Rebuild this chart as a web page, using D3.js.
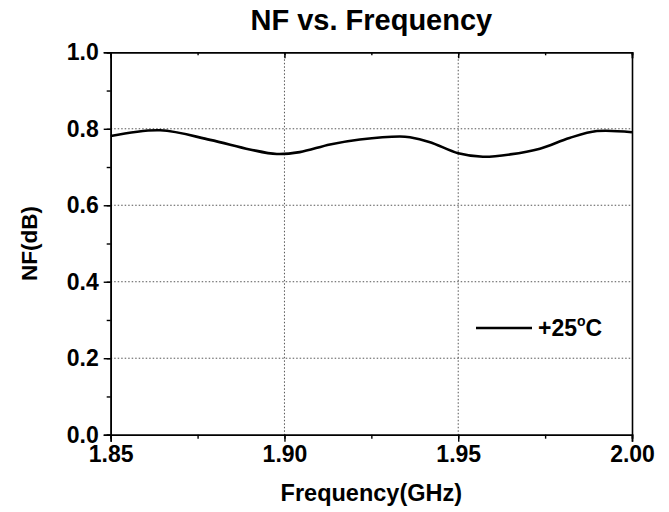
<!DOCTYPE html>
<html>
<head>
<meta charset="utf-8">
<script src="https://cdn.jsdelivr.net/npm/d3@7"></script>
<style>
    body { margin: 0; background: #fff; }
    text { font-family: "Liberation Sans", Arial, sans-serif; font-weight: bold; fill: #000; }
    .grid line { stroke: #555; stroke-width: 1; stroke-dasharray: 1.5,2; }
</style>
</head>
<body>
<svg id="chart" width="669" height="512"></svg>
<script>
// frequency (GHz) and noise figure (dB)
var freq = [1.850, 1.8642, 1.8786, 1.890, 1.8978, 1.9044, 1.9131, 1.9217, 1.9332, 1.9361,
            1.9419, 1.950, 1.9571, 1.9649, 1.9735, 1.982, 1.9899, 2.000];
var nf   = [0.781, 0.796, 0.771, 0.746, 0.734, 0.739, 0.759, 0.772, 0.780, 0.778,
            0.765, 0.736, 0.727, 0.733, 0.748, 0.776, 0.794, 0.791];

var xTicks = [1.85, 1.90, 1.95, 2.00];
var yTicks = [0.0, 0.2, 0.4, 0.6, 0.8, 1.0];
var seriesName = "+25";

var svg = d3.select("#chart");

// plot frame
var box = { left: 110.7, right: 632, top: 52.3, bottom: 434.7 };

var x = d3.scaleLinear().domain([1.85, 2.00]).range([box.left, box.right]);
var y = d3.scaleLinear().domain([0, 1]).range([box.bottom, box.top]);

// dotted grid, inner lines only
var grid = svg.append("g").attr("class", "grid");
grid.selectAll(".gx")
    .data(xTicks.slice(1, -1))
    .enter()
    .append("line")
    .attr("x1", function(d) { return x(d); })
    .attr("x2", function(d) { return x(d); })
    .attr("y1", box.top)
    .attr("y2", box.bottom);
grid.selectAll(".gy")
    .data(yTicks.slice(1, -1))
    .enter()
    .append("line")
    .attr("x1", box.left)
    .attr("x2", box.right)
    .attr("y1", function(d) { return y(d); })
    .attr("y2", function(d) { return y(d); });

// curve
var line = d3.line()
    .x(function(d, i) { return x(freq[i]); })
    .y(function(d) { return y(d); })
    .curve(d3.curveCatmullRom.alpha(0.5));

svg.append("path")
    .datum(nf)
    .attr("d", line)
    .attr("fill", "none")
    .attr("stroke", "#000")
    .attr("stroke-width", 2.6);

// axes
function styleAxis(g)
{
    g.selectAll("path").attr("stroke-width", 1.6).attr("stroke", "#000");
    g.selectAll("line").attr("stroke-width", 1.4).attr("stroke", "#000");
}

var xMinor = d3.range(0, 7).map(function(i) { return 1.85 + i * 0.025; });
var yMinor = d3.range(0, 11).map(function(i) { return i * 0.1; });

svg.append("g")
    .attr("transform", "translate(0," + box.bottom + ")")
    .call(d3.axisBottom(x).tickValues(xMinor).tickSize(4).tickFormat(""))
    .call(styleAxis);
svg.append("g")
    .attr("transform", "translate(0," + box.bottom + ")")
    .call(d3.axisBottom(x).tickValues(xTicks).tickSize(7).tickFormat(d3.format(".2f")).tickPadding(4))
    .call(styleAxis)
    .selectAll("text")
    .style("font-size", "23px");

svg.append("g")
    .attr("transform", "translate(" + box.left + ",0)")
    .call(d3.axisLeft(y).tickValues(yMinor).tickSize(4).tickFormat(""))
    .call(styleAxis);
svg.append("g")
    .attr("transform", "translate(" + box.left + ",0)")
    .call(d3.axisLeft(y).tickValues(yTicks).tickSize(7).tickFormat(d3.format(".1f")).tickPadding(5))
    .call(styleAxis)
    .selectAll("text")
    .style("font-size", "23px");

// top axis with inward ticks, right axis plain
svg.append("g")
    .attr("transform", "translate(0," + box.top + ")")
    .call(d3.axisBottom(x).tickValues(xMinor).tickSize(3).tickFormat(""))
    .call(styleAxis);
svg.append("g")
    .attr("transform", "translate(0," + box.top + ")")
    .call(d3.axisBottom(x).tickValues(xTicks).tickSize(6).tickFormat(""))
    .call(styleAxis);
svg.append("g")
    .attr("transform", "translate(" + box.right + ",0)")
    .call(d3.axisRight(y).tickValues([]).tickSizeOuter(0))
    .call(styleAxis);

// titles
svg.append("text")
    .attr("x", (box.left + box.right) / 2)
    .attr("y", 30)
    .attr("text-anchor", "middle")
    .style("font-size", "29px")
    .text("NF vs. Frequency");

svg.append("text")
    .attr("x", (box.left + box.right) / 2)
    .attr("y", 501)
    .attr("text-anchor", "middle")
    .style("font-size", "23.5px")
    .text("Frequency(GHz)");

svg.append("text")
    .attr("transform", "translate(37," + (box.top + box.bottom) / 2 + ") rotate(-90)")
    .attr("text-anchor", "middle")
    .style("font-size", "22.5px")
    .text("NF(dB)");

// legend
var legend = svg.append("g").attr("transform", "translate(476,328)");
legend.append("line")
    .attr("x1", 0)
    .attr("x2", 56)
    .attr("stroke", "#000")
    .attr("stroke-width", 2.6);
var lt = legend.append("text")
    .attr("x", 62)
    .attr("y", 8)
    .style("font-size", "23px");
lt.append("tspan").text(seriesName);
lt.append("tspan").attr("dy", -10).style("font-size", "14px").text("o");
lt.append("tspan").attr("dy", 10).text("C");
</script>
</body>
</html>
